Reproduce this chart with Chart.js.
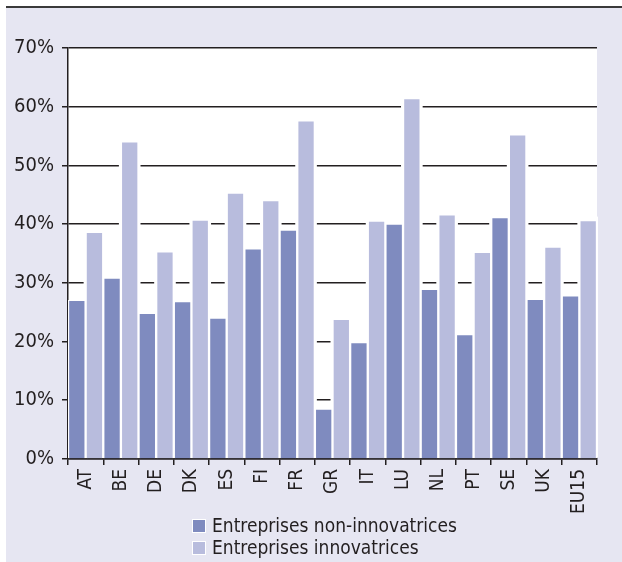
<!DOCTYPE html>
<html lang="fr">
<head>
  <meta charset="UTF-8">
  <title>Entreprises innovatrices</title>
  <script src="https://cdn.jsdelivr.net/npm/chart.js"></script>
  <style>
    body { margin: 0; background: #fff; }
    #panel {
      position: absolute; left: 6px; top: 6px; width: 616px; height: 556px;
      background: #e6e6f2; border-top: 2px solid #3a3a3a;
    }
    #wrap { position: absolute; left: 0; top: 0; width: 622px; height: 518px; }
    #legend {
      position: absolute; left: 192px; top: 514px;
      font-family: 'Liberation Sans Narrow', 'DejaVu Sans Condensed', sans-serif;
      font-size: 19px; color: #231f20; line-height: 22px;
    }
    #legend span.box {
      display: inline-block; width: 12px; height: 12px; margin-right: 6px;
      border: 1px solid #fff; vertical-align: -1px;
    }
  </style>
</head>
<body>
  <div id="panel"></div>
  <div id="wrap"><canvas id="chart" width="622" height="518"></canvas></div>
  <div id="legend"></div>

  <script>
    const pays = ['AT', 'BE', 'DE', 'DK', 'ES', 'FI', 'FR', 'GR', 'IT', 'LU', 'NL', 'PT', 'SE', 'UK', 'EU15'];
    const nonInnov = [27.0, 30.8, 24.8, 26.8, 24.0, 35.8, 39.0, 8.5, 19.8, 40.0, 28.9, 21.2, 41.1, 27.2, 27.8];
    const innov = [38.6, 54.0, 35.3, 40.7, 45.3, 44.0, 57.6, 23.8, 40.5, 61.4, 41.6, 35.2, 55.2, 36.1, 40.6];
    const series = ['Entreprises non-innovatrices', 'Entreprises innovatrices'];
    const couleurs = ['#7f8bbf', '#b8bcdd'];

    const police = "'Liberation Sans Narrow', 'DejaVu Sans Condensed', sans-serif";

    // fond blanc de la zone du graphique + coupure des lignes autour des barres
    const fondPlugin = {
      id: 'fond',
      beforeDraw(chart) {
        const a = chart.chartArea;
        const c = chart.ctx;
        c.save();
        c.fillStyle = '#fff';
        c.fillRect(a.left, a.top, a.right - a.left, a.bottom - a.top);
        c.restore();
      },
      beforeDatasetsDraw(chart) {
        const a = chart.chartArea;
        const c = chart.ctx;
        c.save();
        c.beginPath();
        c.rect(a.left + 1, a.top, a.right - a.left, a.bottom - a.top - 1);
        c.clip();
        c.fillStyle = '#fff';
        chart.data.datasets.forEach((ds, i) => {
          chart.getDatasetMeta(i).data.forEach(bar => {
            const p = bar.getProps(['x', 'y', 'base', 'width'], true);
            c.fillRect(p.x - p.width / 2 - 2, p.y - 4, p.width + 4, p.base - p.y + 3);
          });
        });
        c.restore();
      }
    };

    const chart = new Chart(document.getElementById('chart').getContext('2d'), {
      type: 'bar',
      data: {
        labels: pays,
        datasets: [
          { label: series[0], data: nonInnov, backgroundColor: couleurs[0] },
          { label: series[1], data: innov, backgroundColor: couleurs[1] }
        ]
      },
      options: {
        responsive: false,
        animation: false,
        layout: { padding: { top: 48, right: 25, left: 6, bottom: 0 } },
        datasets: {
          bar: {
            categoryPercentage: 1,
            barPercentage: 1,
            borderColor: '#fff',
            borderWidth: { top: 1, left: 1.5, right: 1.5, bottom: 0 }
          }
        },
        plugins: { legend: { display: false }, tooltip: { enabled: false } },
        scales: {
          x: {
            grid: { offset: true, drawOnChartArea: false, color: '#231f20', lineWidth: 1.5, tickLength: 6 },
            border: { color: '#231f20', width: 1.5 },
            ticks: { color: '#231f20', font: { family: police, size: 19 }, minRotation: 90, maxRotation: 90, padding: 4 }
          },
          y: {
            min: 0, max: 70,
            grid: { color: '#231f20', lineWidth: 1.5, tickLength: 6 },
            border: { color: '#231f20', width: 1.5 },
            ticks: { stepSize: 10, color: '#231f20', font: { family: police, size: 20 }, padding: 8,
              callback: v => v + '%' }
          }
        }
      },
      plugins: [fondPlugin]
    });

    // légende HTML en deux lignes
    const legende = document.getElementById('legend');
    series.forEach((nom, i) => {
      const ligne = document.createElement('div');
      ligne.innerHTML = '<span class="box" style="background:' + couleurs[i] + '"></span>' + nom;
      legende.appendChild(ligne);
    });
  </script>
</body>
</html>
